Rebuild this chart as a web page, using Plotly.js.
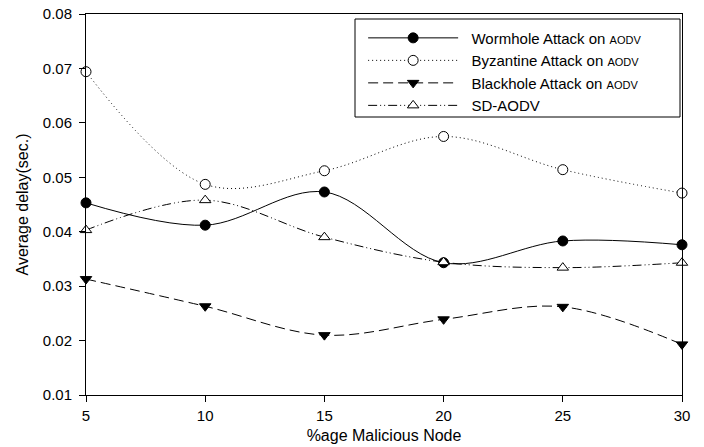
<!DOCTYPE html>
<html>
<head>
<meta charset="utf-8">
<script src="https://cdn.plot.ly/plotly-3.0.1.min.js"></script>
<style>html,body{margin:0;padding:0;background:#fff;}#chart{width:704px;height:447px;}</style>
</head>
<body>
<div id="chart"></div>
<script>
const nodes = [5, 10, 15, 20, 25, 30];
const wormhole = [0.0453, 0.0412, 0.0473, 0.0343, 0.0383, 0.0376];
const byzantine = [0.0694, 0.0487, 0.0512, 0.0575, 0.0514, 0.0471];
const blackhole = [0.0313, 0.0263, 0.0210, 0.0239, 0.0262, 0.0193];
const sdaodv = [0.0403, 0.0458, 0.0390, 0.0344, 0.0334, 0.0343];
const seriesNames = [
  '\u00A0\u00A0Wormhole Attack on <span style="font-size:11px">AODV</span>',
  '\u00A0\u00A0Byzantine Attack on <span style="font-size:11px">AODV</span>',
  '\u00A0\u00A0Blackhole Attack on <span style="font-size:11px">AODV</span>',
  '\u00A0\u00A0SD-AODV'
];
const yTicks = [0.01, 0.02, 0.03, 0.04, 0.05, 0.06, 0.07, 0.08];
const xTicks = [5, 10, 15, 20, 25, 30];

function tr(y, name, dash, symbol, fill) {
  return {
    x: nodes, y: y, name: name, type: 'scatter', mode: 'lines+markers',
    line: {color: '#000', width: 1, dash: dash, shape: 'spline', smoothing: 1},
    marker: {symbol: symbol, size: 10, color: fill, line: {color: '#000', width: 1}},
    cliponaxis: false
  };
}
const data = [
  tr(wormhole, seriesNames[0], 'solid', 'circle', '#000'),
  tr(byzantine, seriesNames[1], '1px,3px', 'circle', '#fff'),
  tr(blackhole, seriesNames[2], '10px,5px', 'triangle-down', '#000'),
  tr(sdaodv, seriesNames[3], '9px,3px,1px,3px,1px,3px', 'triangle-up', '#fff')
];
const layout = {
  width: 704, height: 447,
  margin: {l: 86, r: 22, t: 14, b: 52},
  paper_bgcolor: '#fff', plot_bgcolor: '#fff',
  font: {family: 'Liberation Sans, Arial, sans-serif', size: 15, color: '#000'},
  showlegend: true,
  legend: {
    x: 0.465, y: 0.98, xanchor: 'left', yanchor: 'top',
    bgcolor: 'rgba(0,0,0,0)', borderwidth: 0,
    font: {size: 15}, itemwidth: 90, tracegroupgap: 0
  },
  shapes: [{
    type: 'rect', xref: 'paper', yref: 'paper',
    x0: (355 - 86) / 596, x1: (680 - 86) / 596,
    y0: 1 - (117 - 14) / 381, y1: 1 - (19 - 14) / 381,
    line: {color: '#000', width: 1}, fillcolor: 'rgba(0,0,0,0)'
  }],
  xaxis: {
    range: [5, 30], tickvals: xTicks, ticks: 'outside', ticklen: 6, tickcolor: '#000',
    showline: true, linecolor: '#000', linewidth: 1, mirror: true,
    showgrid: false, zeroline: false, tickfont: {size: 15}, ticklabelstandoff: 1,
    title: {text: '%age Malicious Node', font: {size: 16}, standoff: 6}
  },
  yaxis: {
    range: [0.01, 0.08], tickvals: yTicks, tickformat: '.2f', ticks: 'outside', ticklen: 6, tickcolor: '#000',
    showline: true, linecolor: '#000', linewidth: 1, mirror: true,
    showgrid: false, zeroline: false, tickfont: {size: 15}, ticklabelstandoff: 4,
    title: {text: 'Average delay(sec.)', font: {size: 16}, standoff: 10}
  }
};
Plotly.newPlot('chart', data, layout, {displayModeBar: false, staticPlot: true});
</script>
</body>
</html>
